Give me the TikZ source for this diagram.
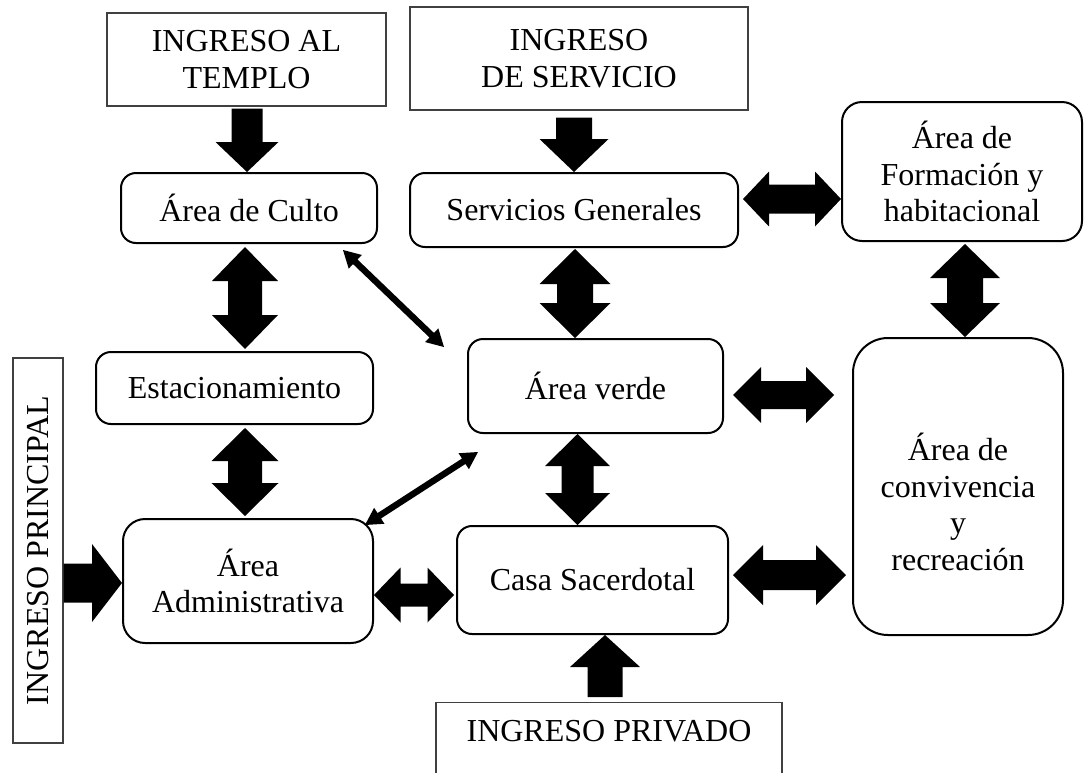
\documentclass[tikz,border=0pt]{standalone}
\usepackage{fontspec}
\setmainfont{Liberation Serif}
\usetikzlibrary{calc}
% double block arrow: A, B, half shaft, half head, head length
\newcommand\dblarrow[5]{%
\fill (#1) -- ($(#1)!#5!(#2)!#4!90:(#2)$) -- ($(#1)!#5!(#2)!#3!90:(#2)$)
 -- ($(#2)!#5!(#1)!#3!-90:(#1)$) -- ($(#2)!#5!(#1)!#4!-90:(#1)$) -- (#2)
 -- ($(#2)!#5!(#1)!#4!90:(#1)$) -- ($(#2)!#5!(#1)!#3!90:(#1)$)
 -- ($(#1)!#5!(#2)!#3!-90:(#2)$) -- ($(#1)!#5!(#2)!#4!-90:(#2)$) -- cycle;}
% single block arrow from A to B (tip at B)
\newcommand\sglarrow[5]{%
\fill ($(#1)!#3!90:(#2)$) -- ($(#2)!#5!(#1)!#3!-90:(#1)$) -- ($(#2)!#5!(#1)!#4!-90:(#1)$)
 -- (#2) -- ($(#2)!#5!(#1)!#4!90:(#1)$) -- ($(#2)!#5!(#1)!#3!90:(#1)$)
 -- ($(#1)!#3!-90:(#2)$) -- cycle;}
\tikzset{
  inbox/.style={draw=black!75, line width=1.2pt, inner sep=0pt},
  rbox/.style={draw=black, line width=2pt, rounded corners=#1, inner sep=0pt, align=center},
  rbox/.default=15pt,
}
\begin{document}
\begin{tikzpicture}[x=1pt,y=-1pt, every node/.style={font=\fontsize{32}{36.5}\selectfont}]
\useasboundingbox (0,0) rectangle (1084,772);
% boxes
\node[inbox, align=center, minimum width=279pt, minimum height=93pt] (templo) at (246.5,59.5) {INGRESO AL\\TEMPLO};
\node[inbox, align=center, minimum width=338pt, minimum height=103pt] (servicio) at (579,58.5) {INGRESO\\DE SERVICIO};
\node[rbox, minimum width=256pt, minimum height=70pt] (culto) at (249,208) {Área de Culto};
\node[rbox, minimum width=328pt, minimum height=74pt] (servgen) at (574,210) {Servicios Generales};
\node[rbox=20pt, minimum width=240pt, minimum height=139pt] (formacion) at (962,171.5) {Área de\\Formación y\\habitacional};
\node[rbox, minimum width=277pt, minimum height=72pt] (estac) at (234.5,388) {Estacionamiento};
\node[rbox, minimum width=255pt, minimum height=94pt] (verde) at (595.5,386) {Área verde};
\node[rbox=35pt, minimum width=210pt, minimum height=297pt] (conv) at (958,486.5) {};
\node[align=center, inner sep=0pt] (convt) at (958,502) {Área de\\convivencia\\y\\recreación};
\node[rbox=22pt, minimum width=250pt, minimum height=124pt] (admin) at (248,581) {Área\\Administrativa};
\node[rbox, minimum width=271pt, minimum height=108pt] (casa) at (592.5,580) {Casa Sacerdotal};
\node[inbox, rotate=90, minimum width=385pt, minimum height=50pt] (principal) at (38,550.5) {INGRESO PRINCIPAL};
\node[inbox, anchor=north, minimum width=346pt, text height=38.5pt, text depth=60pt] (privado) at (609,702) {INGRESO PRIVADO};
% helper columns / rows
\coordinate (c247) at (247,0);
\coordinate (c574) at (574,0);
\coordinate (c245) at (245,0);
\coordinate (c605) at (605,0);
\coordinate (c575) at (575,0);
\coordinate (c577) at (577.5,0);
\coordinate (c965) at (965,0);
\coordinate (r583) at (0,583);
\coordinate (r595) at (0,595);
\coordinate (r575) at (0,575);
\coordinate (r199) at (0,199);
\coordinate (r395) at (0,395);
% arrow end points
\coordinate (a1) at ($(c247 |- templo.south)+(0,2)$);
\coordinate (b1) at (c247 |- culto.north);
\coordinate (a2) at ($(c574 |- servicio.south)+(0,7)$);
\coordinate (b2) at (c574 |- servgen.north);
\coordinate (a3) at ($(c245 |- culto.south)+(0,3)$);
\coordinate (b3) at ($(c245 |- estac.north)+(0,-2)$);
\coordinate (a4) at ($(c245 |- estac.south)+(0,3)$);
\coordinate (b4) at ($(c245 |- admin.north)+(0,-2)$);
\coordinate (a5) at (principal.south |- r583);
\coordinate (b5) at (admin.west |- r583);
\coordinate (a6) at (admin.east |- r595);
\coordinate (b6) at ($(casa.west |- r595)+(-2,0)$);
\coordinate (a7) at ($(casa.east |- r575)+(4,0)$);
\coordinate (b7) at ($(conv.west |- r575)+(-6,0)$);
\coordinate (a8) at ($(c605 |- privado.north)+(0,-5)$);
\coordinate (b8) at (c605 |- casa.south);
\coordinate (a9) at ($(c575 |- servgen.south)+(0,1)$);
\coordinate (b9) at (c575 |- verde.north);
\coordinate (a10) at (c577 |- verde.south);
\coordinate (b10) at (c577 |- casa.north);
\coordinate (a11) at ($(servgen.east |- r199)+(4,0)$);
\coordinate (b11) at (formacion.west |- r199);
\coordinate (a12) at ($(c965 |- formacion.south)+(0,2)$);
\coordinate (b12) at (c965 |- conv.north);
\coordinate (a13) at ($(verde.east |- r395)+(9,0)$);
\coordinate (b13) at ($(conv.west |- r395)+(-18,0)$);
\coordinate (a14) at (343,250);
\coordinate (b14) at (444,347);
\coordinate (a15) at (365,525);
\coordinate (b15) at (478,452);
% connectors
\sglarrow{a1}{b1}{15.5pt}{31.5pt}{30pt}
\sglarrow{a2}{b2}{18pt}{34.5pt}{33pt}
\dblarrow{a3}{b3}{17pt}{33pt}{34pt}
\dblarrow{a4}{b4}{17pt}{33.5pt}{33pt}
\sglarrow{a5}{b5}{19.5pt}{39pt}{30pt}
\dblarrow{a6}{b6}{11.5pt}{27.5pt}{26.5pt}
\dblarrow{a7}{b7}{15pt}{30pt}{30pt}
\sglarrow{a8}{b8}{17.5pt}{35pt}{32pt}
\dblarrow{a9}{b9}{18pt}{35.5pt}{35pt}
\dblarrow{a10}{b10}{16pt}{32.5pt}{32pt}
\dblarrow{a11}{b11}{14.5pt}{27.5pt}{26pt}
\dblarrow{a12}{b12}{18pt}{35pt}{34pt}
\dblarrow{a13}{b13}{14pt}{28pt}{28pt}
\dblarrow{a14}{b14}{3.2pt}{9.5pt}{17pt}
\dblarrow{a15}{b15}{3.2pt}{9.5pt}{17pt}
\end{tikzpicture}
\end{document}
